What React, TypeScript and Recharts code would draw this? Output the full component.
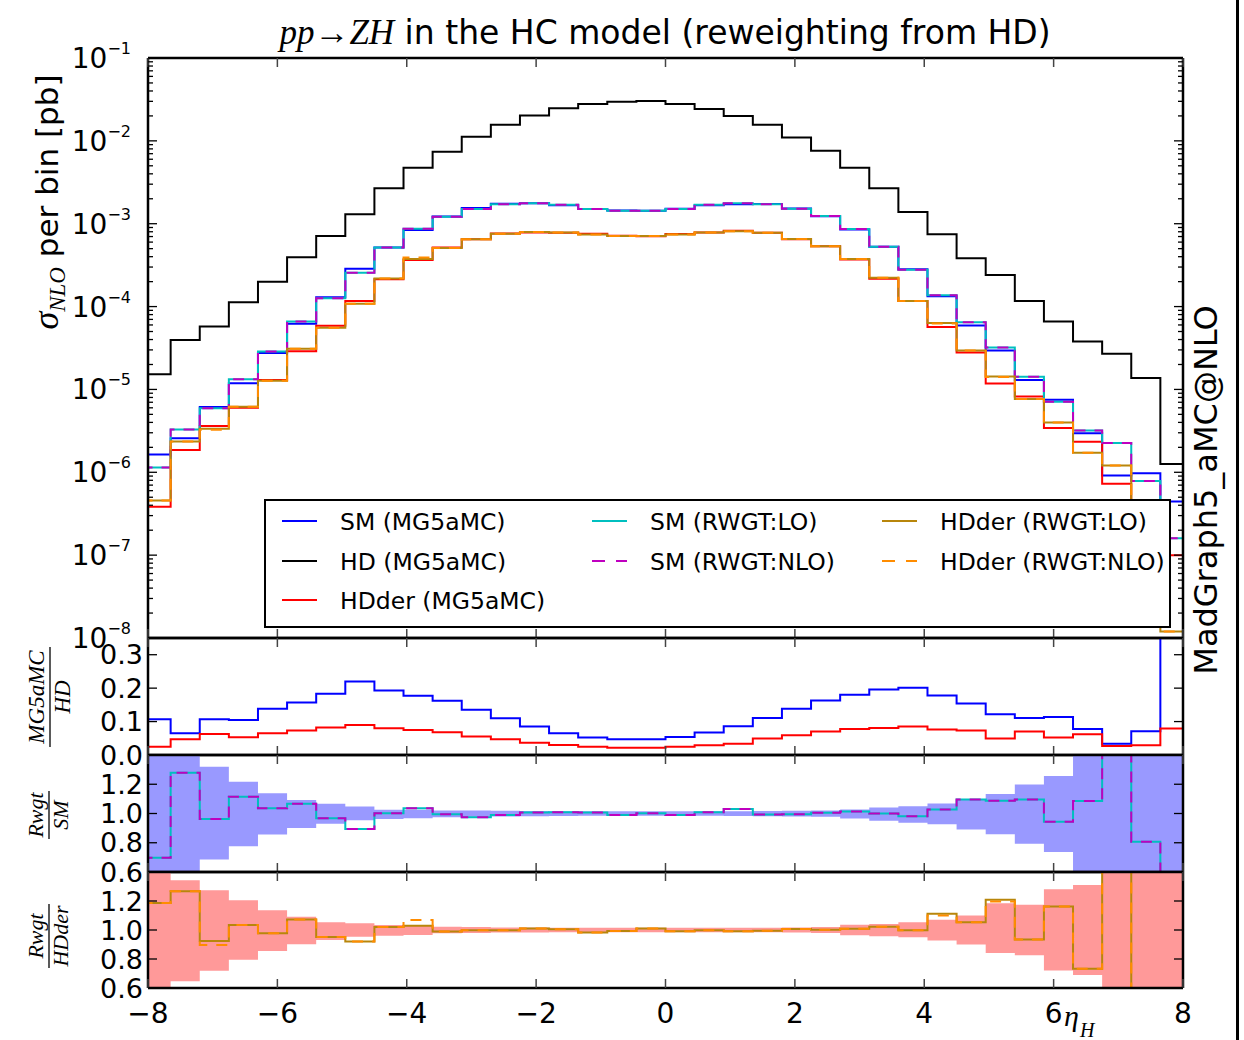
import React from 'react';
import { ComposedChart, Line, Area, XAxis, YAxis } from 'recharts';

// ---- bin edges (eta_H), 36 bins ----
const binEdges = [
  -8.1, -7.65, -7.2, -6.75, -6.3, -5.85, -5.4, -4.95, -4.5, -4.05, -3.6, -3.15, -2.7, -2.25, -1.8, -1.35, -0.9, -0.45,
  0, 0.45, 0.9, 1.35, 1.8, 2.25, 2.7, 3.15, 3.6, 4.05, 4.5, 4.95, 5.4, 5.85, 6.3, 6.75, 7.2, 7.65, 8.1,
];

// ---- main panel: sigma per bin [pb] ----
const hdXsec = [1.53e-5, 3.96e-5, 5.74e-5, 1.13e-4, 2.0e-4, 3.94e-4, 7.13e-4, 1.30e-3, 2.68e-3, 4.75e-3,
  7.41e-3, 1.12e-2, 1.56e-2, 2.02e-2, 2.47e-2, 2.79e-2, 2.97e-2, 3.03e-2, 2.79e-2, 2.43e-2,
  2.0e-2, 1.56e-2, 1.10e-2, 7.62e-3, 4.75e-3, 2.68e-3, 1.38e-3, 7.47e-4, 3.84e-4, 2.41e-4,
  1.17e-4, 6.59e-5, 3.78e-5, 2.69e-5, 1.37e-5, 1.26e-6];
const smXsec = [1.64e-6, 2.57e-6, 6.14e-6, 1.19e-5, 2.76e-5, 6.19e-5, 1.30e-4, 2.86e-4, 5.17e-4, 8.41e-4,
  1.22e-3, 1.55e-3, 1.74e-3, 1.76e-3, 1.67e-3, 1.50e-3, 1.44e-3, 1.43e-3, 1.52e-3, 1.67e-3,
  1.72e-3, 1.73e-3, 1.53e-3, 1.23e-3, 8.50e-4, 5.28e-4, 2.83e-4, 1.33e-4, 5.91e-5, 2.94e-5,
  1.30e-5, 7.51e-6, 2.95e-6, 9.15e-7, 9.73e-7, 4.45e-7];
const hdderXsec = [3.83e-7, 1.86e-6, 3.62e-6, 5.99e-6, 1.30e-5, 2.88e-5, 5.85e-5, 1.17e-4, 2.14e-4, 3.65e-4,
  5.15e-4, 6.50e-4, 7.60e-4, 7.85e-4, 7.80e-4, 7.55e-4, 7.15e-4, 7.05e-4, 7.50e-4, 7.85e-4,
  8.20e-4, 7.80e-4, 6.49e-4, 5.33e-4, 3.71e-4, 2.17e-4, 1.17e-4, 5.68e-5, 2.80e-5, 1.18e-5,
  8.19e-6, 3.43e-6, 2.34e-6, 7.26e-7, 3.97e-7, 9.95e-8];
const smRwgtLoXsec = [1.14e-6, 3.28e-6, 5.91e-6, 1.33e-5, 2.86e-5, 6.60e-5, 1.26e-4, 2.56e-4, 5.18e-4, 8.71e-4,
  1.21e-3, 1.51e-3, 1.72e-3, 1.77e-3, 1.69e-3, 1.51e-3, 1.43e-3, 1.43e-3, 1.51e-3, 1.69e-3,
  1.77e-3, 1.72e-3, 1.52e-3, 1.24e-3, 8.62e-4, 5.28e-4, 2.78e-4, 1.37e-4, 6.48e-5, 3.20e-5,
  1.42e-5, 7.08e-6, 3.20e-6, 2.25e-6, 7.84e-7, 1.60e-7];
const smRwgtNloXsec = [1.14e-6, 3.28e-6, 5.91e-6, 1.33e-5, 2.86e-5, 6.60e-5, 1.26e-4, 2.56e-4, 5.18e-4, 8.71e-4,
  1.21e-3, 1.51e-3, 1.72e-3, 1.77e-3, 1.69e-3, 1.51e-3, 1.43e-3, 1.43e-3, 1.51e-3, 1.69e-3,
  1.77e-3, 1.72e-3, 1.52e-3, 1.24e-3, 8.62e-4, 5.28e-4, 2.78e-4, 1.37e-4, 6.48e-5, 3.20e-5,
  1.42e-5, 7.08e-6, 3.20e-6, 2.25e-6, 7.84e-7, 1.60e-7];
const hdderRwgtLoXsec = [4.55e-7, 2.36e-6, 3.35e-6, 6.19e-6, 1.27e-5, 3.09e-5, 5.57e-5, 1.08e-4, 2.18e-4, 3.76e-4,
  5.09e-4, 6.49e-4, 7.58e-4, 7.94e-4, 7.84e-4, 7.41e-4, 7.10e-4, 7.13e-4, 7.43e-4, 7.83e-4,
  8.13e-4, 7.76e-4, 6.54e-4, 5.34e-4, 3.74e-4, 2.22e-4, 1.17e-4, 6.32e-5, 2.95e-5, 1.43e-5,
  7.65e-6, 3.99e-6, 1.72e-6, 1.21e-6, 1.50e-7, 1.20e-8];
const hdderRwgtNloXsec = [4.55e-7, 2.36e-6, 3.25e-6, 6.19e-6, 1.27e-5, 3.09e-5, 5.57e-5, 1.08e-4, 2.18e-4, 3.90e-4,
  5.09e-4, 6.49e-4, 7.58e-4, 7.94e-4, 7.84e-4, 7.41e-4, 7.10e-4, 7.13e-4, 7.43e-4, 7.83e-4,
  8.13e-4, 7.76e-4, 6.54e-4, 5.34e-4, 3.74e-4, 2.22e-4, 1.17e-4, 6.25e-5, 2.95e-5, 1.41e-5,
  7.65e-6, 3.99e-6, 1.72e-6, 1.21e-6, 1.50e-7, 1.20e-8];

// ---- ratio panel: MG5aMC / HD ----
const smOverHd = [0.107, 0.065, 0.107, 0.105, 0.138, 0.157, 0.183, 0.220, 0.193, 0.177,
  0.162, 0.135, 0.110, 0.085, 0.065, 0.052, 0.047, 0.047, 0.054, 0.067,
  0.086, 0.111, 0.138, 0.163, 0.180, 0.196, 0.201, 0.178, 0.154, 0.122,
  0.111, 0.114, 0.078, 0.034, 0.071, 0.500];
const hdderOverHd = [0.025, 0.047, 0.063, 0.053, 0.065, 0.073, 0.082, 0.090, 0.080, 0.075,
  0.068, 0.055, 0.047, 0.037, 0.030, 0.025, 0.022, 0.022, 0.025, 0.029,
  0.034, 0.049, 0.059, 0.070, 0.078, 0.081, 0.085, 0.076, 0.073, 0.049,
  0.070, 0.052, 0.062, 0.027, 0.029, 0.079];

// ---- ratio panel: Rwgt / SM ----
const smRwgtLoRatio = [0.697, 1.278, 0.962, 1.115, 1.036, 1.066, 0.968, 0.894, 1.002, 1.036,
  0.995, 0.975, 0.989, 1.007, 1.009, 1.007, 0.989, 1.002, 0.989, 1.009,
  1.030, 0.993, 0.995, 1.005, 1.014, 1.000, 0.982, 1.027, 1.096, 1.087,
  1.096, 0.943, 1.085, 2.460, 0.806, 0.360];
const smRwgtNloRatio = [0.697, 1.278, 0.962, 1.115, 1.036, 1.066, 0.968, 0.894, 1.002, 1.036,
  0.995, 0.975, 0.989, 1.007, 1.009, 1.007, 0.989, 1.002, 0.989, 1.009,
  1.030, 0.993, 0.995, 1.005, 1.014, 1.000, 0.982, 1.027, 1.096, 1.087,
  1.096, 0.943, 1.085, 2.460, 0.806, 0.360];
const smErrLow = [0.30, 0.30, 0.686, 0.776, 0.856, 0.901, 0.930, 0.953, 0.962, 0.968,
  0.975, 0.978, 0.980, 0.982, 0.983, 0.984, 0.985, 0.985, 0.985, 0.984,
  0.983, 0.982, 0.980, 0.977, 0.966, 0.950, 0.936, 0.927, 0.890, 0.858,
  0.794, 0.737, 0.30, 0.30, 0.30, 0.30];
const smErrHigh = [1.70, 1.70, 1.319, 1.217, 1.138, 1.093, 1.066, 1.048, 1.026, 1.026,
  1.021, 1.020, 1.018, 1.017, 1.016, 1.015, 1.015, 1.015, 1.015, 1.015,
  1.016, 1.017, 1.018, 1.020, 1.027, 1.041, 1.050, 1.069, 1.098, 1.133,
  1.199, 1.256, 1.70, 1.70, 1.70, 1.70];

// ---- ratio panel: Rwgt / HDder ----
const hdderRwgtLoRatio = [1.187, 1.267, 0.925, 1.034, 0.977, 1.073, 0.952, 0.920, 1.021, 1.030,
  0.989, 0.998, 0.998, 1.011, 1.005, 0.982, 0.993, 1.011, 0.991, 0.998,
  0.991, 0.995, 1.007, 1.002, 1.009, 1.023, 0.998, 1.112, 1.053, 1.208,
  0.934, 1.162, 0.733, 1.670, 0.380, 0.120];
const hdderRwgtNloRatio = [1.187, 1.267, 0.897, 1.034, 0.977, 1.073, 0.952, 0.920, 1.021, 1.069,
  0.989, 0.998, 0.998, 1.011, 1.005, 0.982, 0.993, 1.011, 0.991, 0.998,
  0.991, 0.995, 1.007, 1.002, 1.009, 1.023, 0.998, 1.100, 1.053, 1.197,
  0.934, 1.162, 0.733, 1.670, 0.380, 0.120];
const hdderErrLow = [0.30, 0.646, 0.719, 0.794, 0.856, 0.902, 0.931, 0.954, 0.961, 0.966,
  0.977, 0.980, 0.982, 0.983, 0.984, 0.984, 0.984, 0.984, 0.984, 0.984,
  0.984, 0.984, 0.983, 0.980, 0.963, 0.957, 0.950, 0.927, 0.900, 0.842,
  0.826, 0.721, 0.689, 0.30, 0.30, 0.30];
const hdderErrHigh = [1.70, 1.343, 1.274, 1.206, 1.137, 1.091, 1.053, 1.046, 1.034, 1.027,
  1.023, 1.020, 1.018, 1.017, 1.016, 1.016, 1.016, 1.016, 1.016, 1.016,
  1.016, 1.016, 1.017, 1.020, 1.037, 1.041, 1.053, 1.071, 1.100, 1.185,
  1.174, 1.281, 1.311, 1.70, 1.70, 1.70];

// ---- ticks ----
const xTickValues = [-8, -6, -4, -2, 0, 2, 4, 6, 8];
const xTickLabels = ['\u22128', '\u22126', '\u22124', '\u22122', '0', '2', '4', '6', '8'];
const logExponents = [-8, -7, -6, -5, -4, -3, -2, -1];
const logMinorMultipliers = [2, 3, 4, 5, 6, 7, 8, 9];
const ratioMcTicks = [0, 0.1, 0.2, 0.3];
const ratioRwTicks = [0.6, 0.8, 1.0, 1.2];

const logMajor = logExponents.map((e) => Math.pow(10, e));
const logMinor = logExponents.slice(0, -1).flatMap((e) => logMinorMultipliers.map((m) => m * Math.pow(10, e)));
const logTicks = [...logMajor, ...logMinor].sort((a, b) => a - b);

const COLORS = {
  sm: '#0000ff',
  hd: '#000000',
  hdder: '#ff0000',
  smLo: '#00bfbf',
  smNlo: '#bf00bf',
  hdLo: '#b8860b',
  hdNlo: '#ff8c00',
  smBand: '#9999ff',
  hdBand: '#ff9999',
};

const FONT = '"DejaVu Sans", sans-serif';
const SERIF = '"Liberation Serif", "DejaVu Serif", serif';
const DASH = '11 9';
const LW = 2;
const TICK_FS = 27;
const spine = { stroke: '#000', strokeWidth: 2.5 };

const legendItems = [
  { label: 'SM (MG5aMC)', color: COLORS.sm, dash: undefined, col: 0, row: 0 },
  { label: 'HD (MG5aMC)', color: COLORS.hd, dash: undefined, col: 0, row: 1 },
  { label: 'HDder (MG5aMC)', color: COLORS.hdder, dash: undefined, col: 0, row: 2 },
  { label: 'SM (RWGT:LO)', color: COLORS.smLo, dash: undefined, col: 1, row: 0 },
  { label: 'SM (RWGT:NLO)', color: COLORS.smNlo, dash: '13 11', col: 1, row: 1 },
  { label: 'HDder (RWGT:LO)', color: COLORS.hdLo, dash: undefined, col: 2, row: 0 },
  { label: 'HDder (RWGT:NLO)', color: COLORS.hdNlo, dash: '13 11', col: 2, row: 1 },
];

function rowsFrom(cols: Record<string, number[]>, bands: Record<string, [number[], number[]]> = {}) {
  return binEdges.map((x, i) => {
    const b = Math.min(i, binEdges.length - 2);
    const row: Record<string, any> = { x };
    Object.keys(cols).forEach((k) => {
      row[k] = cols[k][b];
    });
    Object.keys(bands).forEach((k) => {
      row[k] = [bands[k][0][b], bands[k][1][b]];
    });
    return row;
  });
}

const mainRows = rowsFrom({
  hd: hdXsec, sm: smXsec, hdder: hdderXsec,
  smLo: smRwgtLoXsec, smNlo: smRwgtNloXsec, hdLo: hdderRwgtLoXsec, hdNlo: hdderRwgtNloXsec,
});
const mcRows = rowsFrom({ sm: smOverHd, hdder: hdderOverHd });
const smRows = rowsFrom({ lo: smRwgtLoRatio, nlo: smRwgtNloRatio }, { band: [smErrLow, smErrHigh] });
const hdRows = rowsFrom({ lo: hdderRwgtLoRatio, nlo: hdderRwgtNloRatio }, { band: [hdderErrLow, hdderErrHigh] });

const CHART_W = 1244;
const AXIS_L_W = 60;
const MARGIN_L = 88;
const MARGIN_R = 60;

const isLogMajor = (v: number) => logMajor.some((m) => Math.abs(m - v) / m < 1e-9);

function makeLeftTick(kind: 'log' | 'ratio') {
  return (p: any) => {
    const { x, y, payload } = p;
    const v = payload.value as number;
    if (kind === 'log') {
      const major = isLogMajor(v);
      const e = Math.round(Math.log10(v));
      return (
        <g>
          <line x1={x} x2={x + (major ? 9 : 5)} y1={y} y2={y} stroke="#000" strokeWidth={1.3} />
          {major && (
            <text x={x - 17} y={y + 10} textAnchor="end" fontFamily={FONT} fontSize={TICK_FS + 1} fill="#000">
              <tspan>10</tspan>
              <tspan dy={-14} fontSize={16}>{'\u2212' + Math.abs(e)}</tspan>
            </text>
          )}
        </g>
      );
    }
    return (
      <g>
        <line x1={x} x2={x + 9} y1={y} y2={y} stroke="#000" strokeWidth={1.3} />
        <text x={x - 5} y={y + 9.5} textAnchor="end" fontFamily={FONT} fontSize={TICK_FS} fill="#000">
          {v.toFixed(1)}
        </text>
      </g>
    );
  };
}

function makeRightTick(kind: 'log' | 'ratio') {
  return (p: any) => {
    const { x, y, payload } = p;
    const v = payload.value as number;
    const len = kind === 'log' ? (isLogMajor(v) ? 9 : 5) : 9;
    return <line x1={x} x2={x - len} y1={y} y2={y} stroke="#000" strokeWidth={1.3} />;
  };
}

function makeBottomTick(showLabel: boolean) {
  return (p: any) => {
    const { x, y, payload } = p;
    const idx = xTickValues.indexOf(payload.value);
    return (
      <g>
        <line x1={x} x2={x} y1={y} y2={y - 9} stroke="#444" strokeWidth={1.5} />
        {showLabel && (
          <text x={x} y={y + 35} textAnchor="middle" fontFamily={FONT} fontSize={TICK_FS + 1} fill="#000">
            {xTickLabels[idx]}
          </text>
        )}
      </g>
    );
  };
}

const topTick = (p: any) => {
  const { x, y } = p;
  return <line x1={x} x2={x} y1={y} y2={y + 9} stroke="#444" strokeWidth={1.5} />;
};

function axes(opts: { log?: boolean; domain: [number, number]; ticks: number[]; showX: boolean }) {
  const kind = opts.log ? 'log' : 'ratio';
  const common = {
    type: 'number' as const,
    allowDataOverflow: true,
    tickSize: 0,
    tickMargin: 0,
    tickLine: false,
    interval: 0 as const,
    axisLine: spine,
  };
  return [
    <XAxis key="xb" xAxisId="b" dataKey="x" orientation="bottom" height={1} domain={[-8, 8]} ticks={xTickValues}
      tick={makeBottomTick(opts.showX)} {...common} />,
    <XAxis key="xt" xAxisId="t" dataKey="x" orientation="top" height={1} domain={[-8, 8]} ticks={xTickValues}
      tick={topTick} {...common} />,
    <YAxis key="yl" yAxisId="l" orientation="left" width={AXIS_L_W} scale={opts.log ? 'log' : 'linear'}
      domain={opts.domain} ticks={opts.ticks} tick={makeLeftTick(kind)} {...common} />,
    <YAxis key="yr" yAxisId="r" orientation="right" width={1} scale={opts.log ? 'log' : 'linear'}
      domain={opts.domain} ticks={opts.ticks} tick={makeRightTick(kind)} {...common} />,
  ];
}

function frame(top: number, height: number, plotTop: number, plotBottom: number) {
  return {
    height,
    style: { position: 'absolute' as const, left: 0, top, width: CHART_W, height },
    margin: { top: plotTop - top - 1, bottom: top + height - plotBottom - 1, left: MARGIN_L, right: MARGIN_R },
  };
}

const lineProps = { type: 'stepAfter' as const, dot: false, activeDot: false, isAnimationActive: false, xAxisId: 'b', yAxisId: 'l', strokeWidth: LW };

function Frac({ cx, cy, num, den, len, fs }: { cx: number; cy: number; num: string; den: string; len: number; fs: number }) {
  return (
    <g transform={`translate(${cx},${cy}) rotate(-90)`}>
      <text x={0} y={-6} textAnchor="middle" fontFamily={SERIF} fontStyle="italic" fontSize={fs} fill="#000">{num}</text>
      <line x1={-len / 2} x2={len / 2} y1={0} y2={0} stroke="#000" strokeWidth={1.3} />
      <text x={0} y={fs - 3} textAnchor="middle" fontFamily={SERIF} fontStyle="italic" fontSize={fs} fill="#000">{den}</text>
    </g>
  );
}

export default function App() {
  const f1 = frame(0, 660, 58, 638);
  const f2 = frame(620, 165, 638, 755);
  const f3 = frame(740, 155, 755, 872);
  const f4 = frame(860, 180, 872, 988);
  const legCols = [282, 592, 882];
  const legRows = [521, 561, 600];
  return (
    <div style={{ position: 'absolute', left: 0, top: 0, width: 1244, height: 1040, background: '#fff', overflow: 'hidden' }}>
      <div style={f1.style}>
        <ComposedChart width={CHART_W} height={f1.height} data={mainRows} margin={f1.margin}>
          {axes({ log: true, domain: [1e-8, 1e-1], ticks: logTicks, showX: false })}
          <Line dataKey="hd" stroke={COLORS.hd} {...lineProps} />
          <Line dataKey="sm" stroke={COLORS.sm} {...lineProps} />
          <Line dataKey="hdder" stroke={COLORS.hdder} {...lineProps} />
          <Line dataKey="smLo" stroke={COLORS.smLo} {...lineProps} />
          <Line dataKey="smNlo" stroke={COLORS.smNlo} strokeDasharray={DASH} {...lineProps} />
          <Line dataKey="hdLo" stroke={COLORS.hdLo} {...lineProps} />
          <Line dataKey="hdNlo" stroke={COLORS.hdNlo} strokeDasharray={DASH} {...lineProps} />
        </ComposedChart>
      </div>
      <div style={f2.style}>
        <ComposedChart width={CHART_W} height={f2.height} data={mcRows} margin={f2.margin}>
          {axes({ domain: [0, 0.35], ticks: ratioMcTicks, showX: false })}
          <Line dataKey="sm" stroke={COLORS.sm} {...lineProps} />
          <Line dataKey="hdder" stroke={COLORS.hdder} {...lineProps} />
        </ComposedChart>
      </div>
      <div style={f3.style}>
        <ComposedChart width={CHART_W} height={f3.height} data={smRows} margin={f3.margin}>
          {axes({ domain: [0.6, 1.4], ticks: ratioRwTicks, showX: false })}
          <Area dataKey="band" type="stepAfter" fill={COLORS.smBand} fillOpacity={1} stroke="none" dot={false} activeDot={false}
            isAnimationActive={false} xAxisId="b" yAxisId="l" />
          <Line dataKey="lo" stroke={COLORS.smLo} {...lineProps} />
          <Line dataKey="nlo" stroke={COLORS.smNlo} strokeDasharray={DASH} {...lineProps} />
        </ComposedChart>
      </div>
      <div style={f4.style}>
        <ComposedChart width={CHART_W} height={f4.height} data={hdRows} margin={f4.margin}>
          {axes({ domain: [0.6, 1.4], ticks: ratioRwTicks, showX: true })}
          <Area dataKey="band" type="stepAfter" fill={COLORS.hdBand} fillOpacity={1} stroke="none" dot={false} activeDot={false}
            isAnimationActive={false} xAxisId="b" yAxisId="l" />
          <Line dataKey="lo" stroke={COLORS.hdLo} {...lineProps} />
          <Line dataKey="nlo" stroke={COLORS.hdNlo} strokeDasharray={DASH} {...lineProps} />
        </ComposedChart>
      </div>

      <svg width={1244} height={1040} style={{ position: 'absolute', left: 0, top: 0, pointerEvents: 'none' }}>
        <rect x={1236} y={0} width={3} height={1040} fill="#000" />
        <text x={665} y={44} textAnchor="middle" fontFamily={FONT} fontSize={33} fill="#000">
          <tspan fontFamily={SERIF} fontStyle="italic" fontSize={35}>pp→ZH</tspan>
          <tspan>{' in the HC model (reweighting from HD)'}</tspan>
        </text>
        <text transform="translate(58,202) rotate(-90)" textAnchor="middle" fontFamily={FONT} fontSize={31} fill="#000">
          <tspan fontFamily={SERIF} fontStyle="italic" fontSize={36}>σ</tspan>
          <tspan fontFamily={SERIF} fontStyle="italic" fontSize={23} dy={7}>NLO</tspan>
          <tspan dy={-7}>{' per bin [pb]'}</tspan>
        </text>
        <text transform="translate(1217,490) rotate(-90)" textAnchor="middle" fontFamily={FONT} fontSize={32} fill="#000">
          MadGraph5_aMC@NLO
        </text>
        <Frac cx={50} cy={697} num="MG5aMC" den="HD" len={100} fs={23} />
        <Frac cx={49} cy={815} num="Rwgt" den="SM" len={48} fs={22} />
        <Frac cx={49} cy={936} num="Rwgt" den="HDder" len={64} fs={22} />
        <text x={1064} y={1026} fontFamily={SERIF} fontStyle="italic" fontSize={30} fill="#000">η</text>
        <text x={1080} y={1037} fontFamily={SERIF} fontStyle="italic" fontSize={20} fill="#000">H</text>

        <rect x={265} y={500} width={905} height={127} fill="#fff" stroke="#000" strokeWidth={2} />
        {legendItems.map((it) => (
          <g key={it.label}>
            <line x1={legCols[it.col]} x2={legCols[it.col] + 35} y1={legRows[it.row]} y2={legRows[it.row]}
              stroke={it.color} strokeWidth={LW} strokeDasharray={it.dash} />
            <text x={legCols[it.col] + 58} y={legRows[it.row] + 9} fontFamily={FONT} fontSize={23.5} fill="#000">{it.label}</text>
          </g>
        ))}
      </svg>
    </div>
  );
}
